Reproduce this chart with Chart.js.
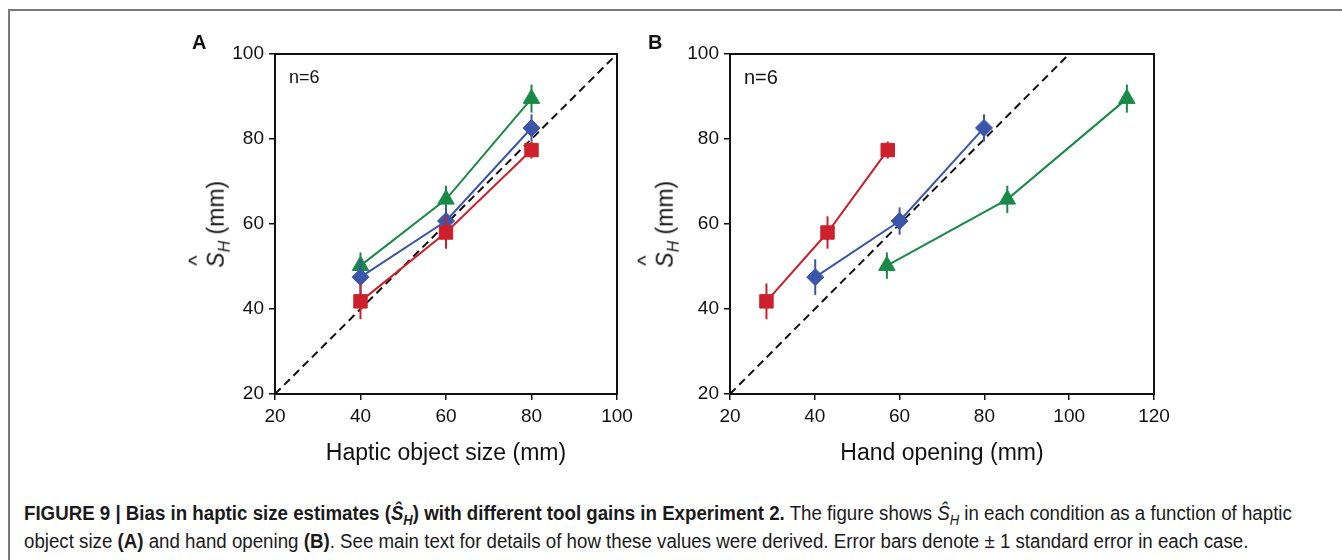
<!DOCTYPE html>
<html>
<head>
<meta charset="utf-8">
<script src="https://cdn.jsdelivr.net/npm/chart.js@4.4.1/dist/chart.umd.min.js"></script>
<style>
  body { margin: 0; background: #fff; width: 1342px; height: 560px; overflow: hidden; position: relative;
         font-family: "Liberation Sans", Arial, sans-serif; color: #111; }
  .frame { position: absolute; left: 8px; top: 9px; width: 1400px; height: 600px;
           border-left: 2px solid #7a7a7a; border-top: 2px solid #7a7a7a; }
  .box { position: absolute; }
  .letter { position: absolute; font-weight: bold; font-size: 20px; }
  .note { position: absolute; font-size: 18px; }
  .ytitle { position: absolute; font-size: 23px; white-space: nowrap; transform: rotate(-90deg); transform-origin: center; }
  .ytitle .s { position: relative; font-style: italic; }
  .ytitle .hat { position: absolute; left: 2px; top: -19px; font-style: normal; font-size: 22px; }
  .ytitle sub { font-style: italic; font-size: 16px; }
  .cap { position: absolute; left: 24px; top: 499px; font-family: "Liberation Sans", Arial, sans-serif;
         font-size: 20px; line-height: 28px; white-space: nowrap; color: #1a1a1a;
         transform: scaleX(0.935); transform-origin: left top; }
  .cap sub { line-height: 0; font-size: 14px; }
</style>
</head>
<body>
<div class="frame"></div>

<div class="box" style="left:170px; top:30px; width:480px; height:440px;"><canvas id="chartA"></canvas></div>
<div class="box" style="left:620px; top:30px; width:560px; height:440px;"><canvas id="chartB"></canvas></div>

<div class="letter" style="left:192px; top:31px;">A</div>
<div class="letter" style="left:648px; top:31px;">B</div>
<div class="note" style="left:289px; top:67px;">n=6</div>
<div class="note" style="left:744px; top:66px; font-size:20px;">n=6</div>

<div class="ytitle" style="left:173px; top:209px; width:90px; text-align:center;"><span class="s">S<span class="hat">^</span></span><sub>H</sub> (mm)</div>
<div class="ytitle" style="left:622px; top:209px; width:90px; text-align:center;"><span class="s">S<span class="hat">^</span></span><sub>H</sub> (mm)</div>

<div class="cap"><b>FIGURE 9 | Bias in haptic size estimates (<i>Ŝ<sub>H</sub></i>) with different tool gains in Experiment 2.</b> The figure shows <i>Ŝ<sub>H</sub></i> in each condition as a function of haptic<br>object size <b>(A)</b> and hand opening <b>(B)</b>. See main text for details of how these values were derived. Error bars denote ± 1 standard error in each case.</div>

<script>
// haptic object size (mm), same for all three tool gains
const objectSize = [40, 60, 80]
// hand opening (mm) per gain condition
const handRed = [28.6, 43.0, 57.2]
const handBlue = [40.1, 60.0, 79.9]
const handGreen = [57.0, 85.4, 113.6]
// estimated size S_H (mm)
const estRed = [41.8, 58.0, 77.4]
const estBlue = [47.5, 60.7, 82.6]
const estGreen = [50.2, 65.8, 89.5]
// standard errors
const seRed = [4.2, 3.8, 2.0]
const seBlue = [4.2, 3.2, 3.2]
const seGreen = [3.1, 3.2, 3.3]
// unity line
const unity = [20, 100]
// tick labels
const xTicksA = [20, 40, 60, 80, 100]
const xTicksB = [20, 40, 60, 80, 100, 120]
const yTicks = [20, 40, 60, 80, 100]

const RED = 'rgb(205, 32, 44)'
const BLUE = 'rgb(58, 86, 170)'
const GREEN = 'rgb(24, 138, 70)'

function pts(xs, ys) {
    return xs.map((x, i) => ({ x: x, y: ys[i] }))
}

/**
 * Draws vertical error bars before each dataset, from dataset.errors.
 */
const errorBars = {
    id: 'errorBars',
    beforeDatasetDraw(chart, args) {
        const ds = chart.data.datasets[args.index]
        if (!ds.errors) return
        const yScale = chart.scales.y
        const ctx = chart.ctx
        ctx.save()
        ctx.strokeStyle = ds.borderColor
        ctx.lineWidth = 2
        args.meta.data.forEach((p, i) => {
            const v = ds.data[i].y
            ctx.beginPath()
            ctx.moveTo(p.x, yScale.getPixelForValue(v + ds.errors[i]))
            ctx.lineTo(p.x, yScale.getPixelForValue(v - ds.errors[i]))
            ctx.stroke()
        })
        ctx.restore()
    }
}

/**
 * Black frame around the plotting area.
 */
const frameBox = {
    id: 'frameBox',
    afterDraw(chart) {
        const a = chart.chartArea
        const ctx = chart.ctx
        ctx.save()
        ctx.strokeStyle = '#111'
        ctx.lineWidth = 2
        ctx.strokeRect(a.left, a.top, a.right - a.left, a.bottom - a.top)
        ctx.restore()
    }
}

function series(xs, ys, errs, color, style, radius, order) {
    return {
        data: pts(xs, ys),
        errors: errs,
        showLine: true,
        borderColor: color,
        backgroundColor: color,
        borderWidth: 2,
        pointStyle: style,
        pointRadius: radius,
        pointHoverRadius: radius,
        pointBorderWidth: 1,
        order: order
    }
}

function makeChart(canvas, xs, xTicks, xMax, xTitle, yWidth, padRight) {
    return new Chart(canvas, {
        type: 'scatter',
        data: {
            datasets: [
                series(xs[0], estRed, seRed, RED, 'rect', 9.5, 1),
                series(xs[1], estBlue, seBlue, BLUE, 'rectRot', 8.5, 2),
                series(xs[2], estGreen, seGreen, GREEN, 'triangle', 9.5, 3),
                {
                    data: pts(unity, unity),
                    showLine: true,
                    borderColor: '#111',
                    borderWidth: 2,
                    borderDash: [8, 5],
                    pointRadius: 0,
                    order: 4
                }
            ]
        },
        options: {
            responsive: true,
            maintainAspectRatio: false,
            animation: false,
            layout: { padding: { top: 24, right: padRight, left: 0, bottom: 0 } },
            plugins: { legend: { display: false }, tooltip: { enabled: false } },
            scales: {
                x: {
                    type: 'linear', min: 20, max: xMax,
                    afterBuildTicks: s => { s.ticks = xTicks.map(v => ({ value: v })) },
                    afterFit: s => { s.height = 76 },
                    grid: { drawOnChartArea: false, tickLength: 6, color: '#111', lineWidth: 1.5 },
                    border: { display: false },
                    ticks: { color: '#111', padding: 5, maxRotation: 0, font: { family: '"Liberation Sans", Arial', size: 19 } },
                    title: { display: true, text: xTitle, color: '#111', padding: { top: 0, bottom: 3 },
                             font: { family: '"Liberation Sans", Arial', size: 23 } }
                },
                y: {
                    type: 'linear', min: 20, max: 100,
                    afterBuildTicks: s => { s.ticks = yTicks.map(v => ({ value: v })) },
                    afterFit: s => { s.width = yWidth },
                    grid: { drawOnChartArea: false, tickLength: 6, color: '#111', lineWidth: 1.5 },
                    border: { display: false },
                    ticks: { color: '#111', padding: 5, font: { family: '"Liberation Sans", Arial', size: 19 } }
                }
            }
        },
        plugins: [errorBars, frameBox]
    })
}

makeChart(document.querySelector('#chartA'), [objectSize, objectSize, objectSize], xTicksA, 100,
    'Haptic object size (mm)', 105, 33)
makeChart(document.querySelector('#chartB'), [handRed, handBlue, handGreen], xTicksB, 120,
    'Hand opening (mm)', 110, 26)
</script>
</body>
</html>
